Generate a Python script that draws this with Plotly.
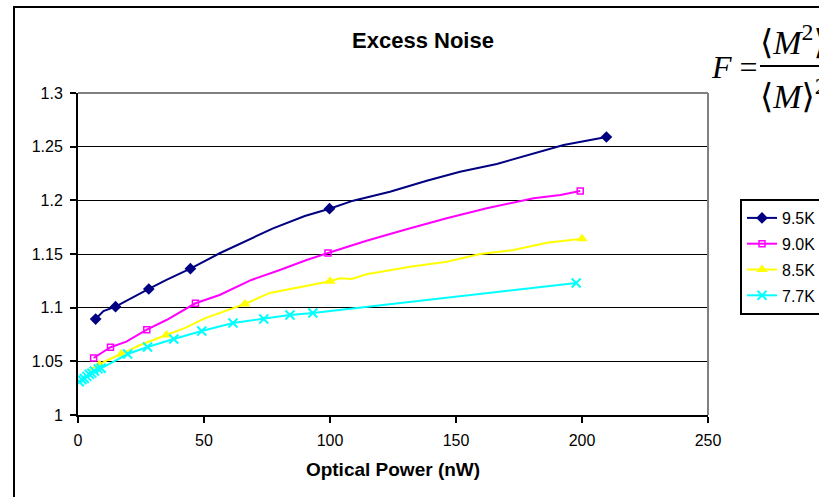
import plotly.graph_objects as go

# ---- data ----
series_names = ["9.5K", "9.0K", "8.5K", "7.7K"]

# smooth curves (line vertices)
curve_95_x = [7.0, 10.1, 14.9, 21.8, 28.1, 35.1, 44.6, 56.2, 66.9, 77.4, 90.0, 99.8, 109.2, 123.8, 138.4, 151.6, 166.2, 180.8, 192.7, 209.7]
curve_95_y = [1.0894, 1.0969, 1.1009, 1.1097, 1.1174, 1.1258, 1.1363, 1.1507, 1.1621, 1.1739, 1.1854, 1.1922, 1.1997, 1.2080, 1.2183, 1.2267, 1.2339, 1.2438, 1.2516, 1.2590]

curve_90_x = [6.2, 12.9, 19.2, 27.3, 35.1, 46.6, 56.2, 68.8, 80.1, 90.7, 99.2, 114.5, 130.4, 146.3, 162.2, 180.8, 191.4, 199.3]
curve_90_y = [1.0531, 1.0631, 1.0683, 1.0795, 1.0885, 1.1041, 1.1118, 1.1258, 1.1351, 1.1444, 1.1509, 1.1624, 1.1730, 1.1833, 1.1926, 1.2019, 1.2050, 1.2087]

curve_85_x = [4.6, 8.5, 12.0, 17.2, 24.4, 35.1, 42.3, 50.3, 58.2, 66.2, 76.1, 88.0, 100.0, 104.0, 108.6, 114.5, 131.8, 146.3, 159.6, 172.8, 186.1, 200.0]
curve_85_y = [1.0420, 1.0470, 1.0515, 1.0568, 1.0650, 1.0745, 1.0810, 1.0900, 1.0970, 1.1034, 1.1137, 1.1190, 1.1246, 1.1274, 1.1267, 1.1311, 1.1382, 1.1428, 1.1500, 1.1537, 1.1605, 1.1643]

curve_77_x = [0.5, 1.5, 2.5, 3.5, 4.5, 5.5, 6.5, 8.0, 9.2, 19.7, 27.6, 38.0, 49.1, 61.5, 73.7, 84.1, 93.2, 197.7]
curve_77_y = [1.0310, 1.0330, 1.0340, 1.0360, 1.0380, 1.0390, 1.0410, 1.0430, 1.0435, 1.0568, 1.0634, 1.0708, 1.0783, 1.0857, 1.0894, 1.0932, 1.0950, 1.1230]

# measured points (markers)
meas_95_x = [7.0, 14.9, 28.1, 44.6, 99.8, 209.7]
meas_95_y = [1.0894, 1.1009, 1.1174, 1.1363, 1.1922, 1.2590]

meas_90_x = [6.2, 12.9, 27.3, 46.6, 99.2, 199.3]
meas_90_y = [1.0531, 1.0631, 1.0795, 1.1041, 1.1509, 1.2087]

meas_85_x = [8.5, 17.2, 35.1, 66.2, 100.0, 200.0]
meas_85_y = [1.0470, 1.0568, 1.0745, 1.1034, 1.1246, 1.1643]

meas_77_x = [0.5, 1.5, 2.5, 3.5, 4.5, 5.5, 6.5, 8.0, 9.2, 19.7, 27.6, 38.0, 49.1, 61.5, 73.7, 84.1, 93.2, 197.7]
meas_77_y = [1.0310, 1.0330, 1.0340, 1.0360, 1.0380, 1.0390, 1.0410, 1.0430, 1.0435, 1.0568, 1.0634, 1.0708, 1.0783, 1.0857, 1.0894, 1.0932, 1.0950, 1.1230]

x_ticks = [0, 50, 100, 150, 200, 250]
y_ticks = [1, 1.05, 1.1, 1.15, 1.2, 1.25, 1.3]
y_tick_text = ["1", "1.05", "1.1", "1.15", "1.2", "1.25", "1.3"]

# ---- styling ----
colors = ["#000080", "#FF00FF", "#FFFF00", "#00FFFF"]
markers = [
    dict(symbol="diamond", size=9, color="#000080", line=dict(width=0)),
    dict(symbol="square-open", size=6, color="#FF00FF", line=dict(width=1.5, color="#FF00FF")),
    dict(symbol="triangle-up", size=10, color="#FFFF00", line=dict(width=0)),
    dict(symbol="x-thin", size=9, color="#00FFFF", line=dict(width=2, color="#00FFFF")),
]
curves = [(curve_95_x, curve_95_y), (curve_90_x, curve_90_y), (curve_85_x, curve_85_y), (curve_77_x, curve_77_y)]
meas = [(meas_95_x, meas_95_y), (meas_90_x, meas_90_y), (meas_85_x, meas_85_y), (meas_77_x, meas_77_y)]

fig = go.Figure()
for i, name in enumerate(series_names):
    cx, cy = curves[i]
    mx, my = meas[i]
    fig.add_trace(go.Scatter(x=cx, y=cy, mode="lines", line=dict(color=colors[i], width=2),
                             showlegend=False, hoverinfo="skip"))
    fig.add_trace(go.Scatter(x=mx, y=my, mode="markers", marker=markers[i],
                             showlegend=False, name=name))
for i, name in enumerate(series_names):
    fig.add_trace(go.Scatter(x=[None], y=[None], mode="lines+markers", name=name,
                             line=dict(color=colors[i], width=2), marker=markers[i],
                             legendgroup=name, showlegend=True))

L, R, T, B = 78, 111, 93, 82
W, H = 819, 497
pw, ph = W - L - R, H - T - B

def px(xp):
    return (xp - L) / pw

def py(yp):
    return (H - B - yp) / ph

tick_font = dict(family="Liberation Sans Narrow, Arial Narrow, Liberation Sans, Arial", size=16, color="black")

fig.update_layout(
    width=W, height=H,
    margin=dict(l=L, r=R, t=T, b=B, autoexpand=False),
    paper_bgcolor="white", plot_bgcolor="white",
    title=dict(text="Excess Noise", x=px(423), xref="paper", xanchor="center",
               y=1 - 40 / H, yref="container", yanchor="middle",
               font=dict(family="Liberation Sans, Arial", size=22, color="black", weight="bold")),
    xaxis=dict(range=[0, 250], tickvals=x_ticks, ticks="outside", ticklen=6, tickwidth=2,
               tickcolor="black", showline=True, linecolor="black", linewidth=2,
               showgrid=False, zeroline=False, tickfont=tick_font, ticklabelstandoff=4,
               title=dict(text="Optical Power (nW)", standoff=14,
                          font=dict(family="Liberation Sans, Arial", size=19, color="black", weight="bold"))),
    yaxis=dict(range=[1, 1.3], tickvals=y_ticks, ticktext=y_tick_text, ticks="outside", ticklen=6,
               tickwidth=2, tickcolor="black", showline=True, linecolor="black", linewidth=2,
               showgrid=True, gridcolor="black", gridwidth=1, zeroline=False,
               tickfont=tick_font, ticklabelstandoff=4),
    legend=dict(x=px(740), y=py(199), xanchor="left", yanchor="top", bgcolor="white",
                bordercolor="black", borderwidth=2, tracegroupgap=2,
                font=dict(family="Liberation Sans, Arial", size=16, color="black")),
    showlegend=True,
)

shapes = [
    # outer chart frame
    dict(type="rect", xref="paper", yref="paper", x0=px(14), x1=px(840), y0=py(7), y1=py(520),
         line=dict(color="black", width=2), fillcolor="rgba(0,0,0,0)", layer="below"),
    # plot area border (top and right) in grey
    dict(type="line", xref="paper", yref="paper", x0=0, x1=1, y0=1, y1=1,
         line=dict(color="#808080", width=2), layer="above"),
    dict(type="line", xref="paper", yref="paper", x0=1, x1=1, y0=0, y1=1,
         line=dict(color="#808080", width=2), layer="above"),
    # fraction bar of the formula
    dict(type="line", xref="paper", yref="paper", x0=px(760), x1=px(840), y0=py(66), y1=py(66),
         line=dict(color="black", width=2), layer="above"),
]
fig.update_layout(shapes=shapes)

serif = "Liberation Serif, Times New Roman, DejaVu Serif"
fig.add_annotation(xref="paper", yref="paper", x=px(709), y=py(67), xanchor="left", yanchor="middle",
                   text="<i>F</i> =", showarrow=False, font=dict(family=serif, size=32, color="black"))
fig.add_annotation(xref="paper", yref="paper", x=px(758), y=py(40), xanchor="left", yanchor="middle",
                   text="⟨<i>M</i><sup>2</sup>⟩", showarrow=False, font=dict(family=serif, size=34, color="black"))
fig.add_annotation(xref="paper", yref="paper", x=px(758), y=py(94), xanchor="left", yanchor="middle",
                   text="⟨<i>M</i>⟩<sup>2</sup>", showarrow=False, font=dict(family=serif, size=34, color="black"))

fig.write_html("out.html")
